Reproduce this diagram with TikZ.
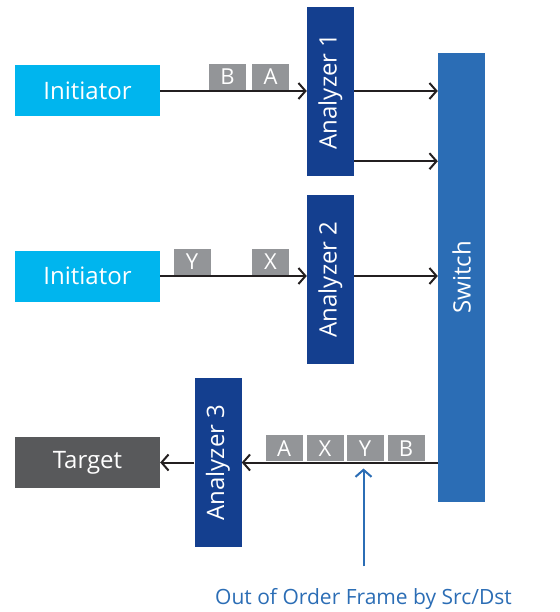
\documentclass[tikz,border=0pt]{standalone}
\usepackage{fontspec}
\setmainfont{Open Sans}
\usetikzlibrary{arrows.meta,calc}
\definecolor{initcyan}{HTML}{00B5EE}
\definecolor{anablue}{HTML}{143F8F}
\definecolor{switchblue}{HTML}{2B6DB5}
\definecolor{targetgray}{HTML}{58595B}
\definecolor{framegray}{HTML}{939598}
\definecolor{linedark}{HTML}{231F20}
\def\boxfont{\fontsize{24}{28}\selectfont}
\tikzset{
	hostbox/.style={minimum width=145pt, minimum height=51pt, inner sep=0pt, text=white, font=\boxfont},
	anabox/.style={fill=anablue, minimum width=47pt, minimum height=169pt, inner sep=0pt, text=white, font=\boxfont},
	framebox/.style={fill=framegray, minimum width=37pt, minimum height=26pt, inner sep=0pt, anchor=south, text=white, font=\fontsize{22}{24}\selectfont},
	flow/.style={line width=2pt, color=linedark, -{Straight Barb[length=7pt, width=16pt]}},
	note/.style={line width=2pt, color=switchblue, -{Straight Barb[length=7pt, width=16pt]}}
}

\begin{document}
\begin{tikzpicture}[x=1pt, y=-1pt]
		%%%%% START %%%%%
		\useasboundingbox (0, 0) rectangle (559, 612);
		
		\node[hostbox, fill=initcyan] (init1) at (87.5, 91) {Initiator};
		\node[hostbox, fill=initcyan] (init2) at (87.5, 276) {Initiator};
		\node[hostbox, fill=targetgray] (target) at (87.5, 462.5) {Target};
		
		\node[anabox] (ana1) at (330.5, 91.5) {\rotatebox{90}{Analyzer 1}};
		\node[anabox] (ana2) at (330.5, 279.5) {\rotatebox{90}{Analyzer 2}};
		\node[anabox] (ana3) at (218, 462.5) {\rotatebox{90}{Analyzer 3}};
		\node[anabox, fill=switchblue, minimum height=449pt] (switch) at (461.5, 277.5) {\rotatebox{90}{Switch}};
		
		\draw[flow] (init1.east) -- (init1.east -| ana1.west);
		\draw[flow] (ana1.east |- init1.east) -- (switch.west |- init1.east);
		\coordinate (a1low) at ($(ana1.south east)+(0, -15)$);
		\draw[flow] (a1low) -- (a1low -| switch.west);
		
		\draw[flow] (init2.east) -- (init2.east -| ana2.west);
		\draw[flow] (ana2.east |- init2.east) -- (switch.west |- init2.east);
		
		\draw[flow] (switch.west |- ana3.east) -- (ana3.east);
		\draw[flow] (ana3.west) -- (target.east);
		
		\node[framebox] (fB1) at (227.5, 90) {B};
		\node[framebox] (fA1) at (270.5, 90) {A};
		\node[framebox] (fY2) at (192, 275) {Y};
		\node[framebox] (fX2) at (270.5, 275) {X};
		
		\node[framebox] (fA3) at (284, 461.5) {A};
		\node[framebox] (fX3) at (325, 461.5) {X};
		\node[framebox] (fY3) at (365, 461.5) {Y};
		\node[framebox] (fB3) at (406, 461.5) {B};
		
		\node[text=switchblue, font=\fontsize{21}{24}\selectfont, inner sep=0pt] (ooo) at (363.5, 599) {Out of Order Frame by Src/Dst};
		\coordinate (oootail) at ($(ooo.north)+(0, -22)$);
		\draw[note] (oootail) -- ($(oootail |- fY3.south)+(0, 7)$);
		
		%%%%% END %%%%%
	\end{tikzpicture}
\end{document}
